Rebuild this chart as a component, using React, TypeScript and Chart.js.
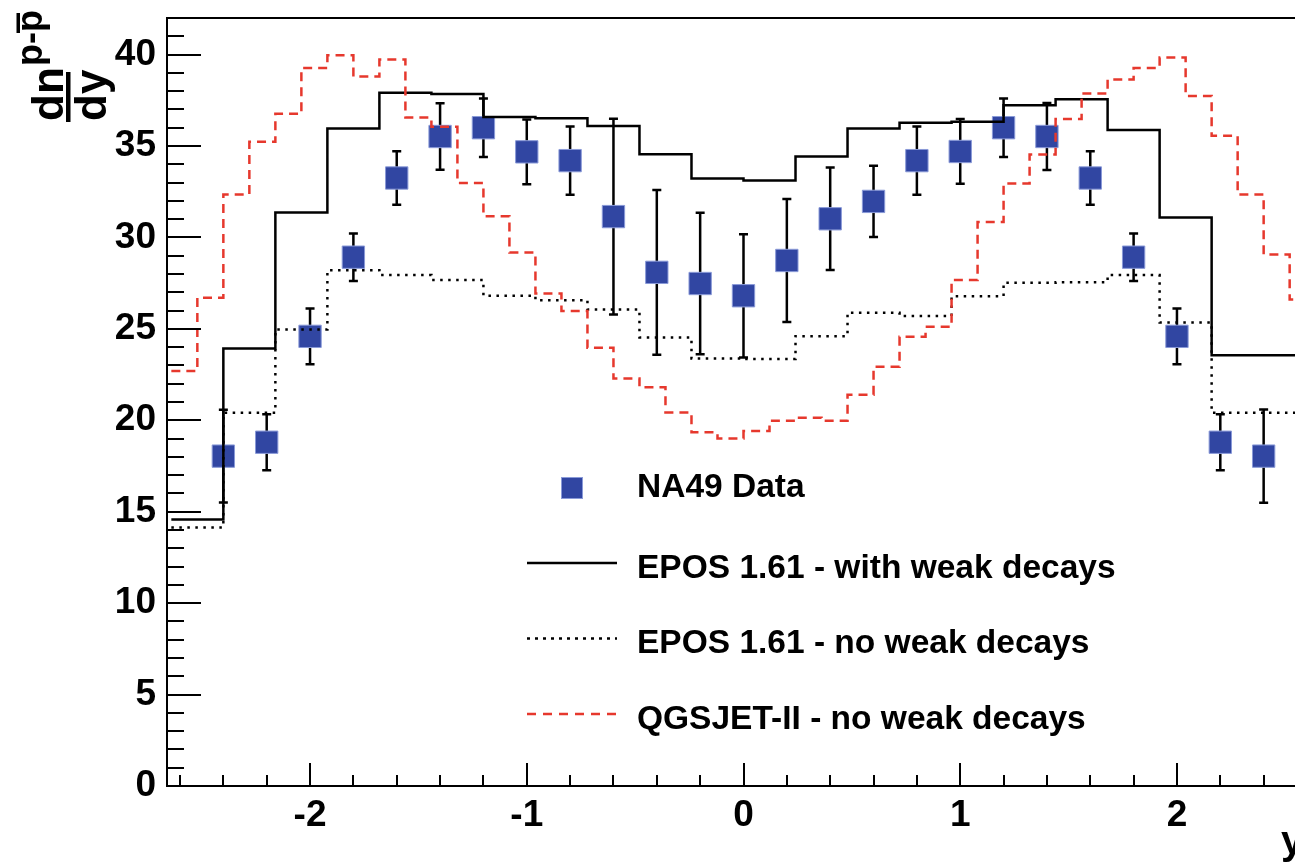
import React, { useEffect, useRef } from "react";
import { Chart, registerables } from "chart.js";

Chart.register(...registerables);

const FONT = '"Liberation Sans", Arial, Helvetica, sans-serif';

// Axis ranges
const X_MIN = -2.66;
const X_MAX = 2.66;
const Y_MIN = 0;
const Y_MAX = 42;

// Tick labels
const xTickValues = [-2, -1, 0, 1, 2];
const xTickLabels = ["-2", "-1", "0", "1", "2"];
const yTickValues = [0, 5, 10, 15, 20, 25, 30, 35, 40];
const yTickLabels = ["0", "5", "10", "15", "20", "25", "30", "35", "40"];
const xMinorStep = 0.2;
const yMinorStep = 1;

// NA49 data points
const na49X = [-2.4, -2.2, -2.0, -1.8, -1.6, -1.4, -1.2, -1.0, -0.8, -0.6, -0.4, -0.2, 0, 0.2, 0.4, 0.6, 0.8, 1.0, 1.2, 1.4, 1.6, 1.8, 2.0, 2.2, 2.4];
const na49Y = [18.04, 18.8, 24.59, 28.92, 33.25, 35.52, 36.0, 34.68, 34.2, 31.14, 28.09, 27.48, 26.81, 28.74, 31.02, 31.97, 34.2, 34.7, 36.0, 35.52, 33.25, 28.92, 24.59, 18.8, 18.04];
const na49Err = [2.53, 1.53, 1.52, 1.3, 1.46, 1.82, 1.6, 1.77, 1.86, 5.35, 4.5, 3.87, 3.37, 3.36, 2.8, 1.95, 1.87, 1.77, 1.6, 1.83, 1.46, 1.3, 1.52, 1.53, 2.55];

// EPOS 1.61 histograms (bin width 0.24)
const eposBinStart = -2.64;
const eposBinWidth = 0.24;
const eposWeakValues = [14.58, 23.93, 31.37, 35.96, 37.91, 37.85, 36.58, 36.52, 36.09, 34.55, 33.22, 33.12, 34.42, 35.96, 36.27, 36.32, 37.23, 37.56, 35.87, 31.09, 23.55, 23.55];
const eposNoWeakValues = [14.14, 20.41, 24.97, 28.21, 27.94, 27.67, 26.81, 26.57, 26.06, 24.53, 23.38, 23.35, 24.6, 25.88, 25.7, 26.79, 27.52, 27.55, 27.94, 25.35, 20.41, 20.41];

// QGSJET-II histogram (bin width 0.12)
const qgsBinStart = -2.64;
const qgsBinWidth = 0.12;
const qgsValues = [22.69, 26.7, 32.35, 35.23, 36.76, 39.27, 39.96, 38.8, 39.73, 36.56, 36.05, 32.98, 31.16, 29.18, 26.94, 25.97, 23.96, 22.29, 21.8, 20.43, 19.34, 19.01, 19.41, 19.97, 20.14, 19.97, 21.4, 22.93, 24.57, 25.11, 27.67, 30.85, 32.95, 34.54, 36.47, 37.87, 38.64, 39.27, 39.84, 37.74, 35.56, 32.35, 29.07, 26.6];

const legendLabels = ["NA49 Data", "EPOS 1.61 - with weak decays", "EPOS 1.61 - no weak decays", "QGSJET-II - no weak decays"];

const MARKER_FILL = "#3146a2";
const MARKER_EDGE = "#8a9ad8";
const RED = "#e6382d";

function histPoints(start: number, width: number, values: number[]) {
  const pts = values.map((v, i) => ({ x: start + i * width, y: v }));
  pts.push({ x: start + values.length * width, y: values[values.length - 1] });
  return pts;
}

const errorBarPlugin = {
  id: "errorBars",
  beforeDatasetsDraw(chart: any) {
    const { ctx, chartArea: a, scales } = chart;
    const xs = scales.x;
    const ys = scales.y;
    ctx.save();
    ctx.beginPath();
    ctx.rect(a.left, a.top, a.right - a.left, a.bottom - a.top);
    ctx.clip();
    ctx.strokeStyle = "#000";
    ctx.lineWidth = 2.5;
    ctx.lineCap = "butt";
    na49X.forEach((xv, i) => {
      const px = xs.getPixelForValue(xv);
      const top = ys.getPixelForValue(na49Y[i] + na49Err[i]);
      const bot = ys.getPixelForValue(na49Y[i] - na49Err[i]);
      ctx.beginPath();
      ctx.moveTo(px, top);
      ctx.lineTo(px, bot);
      ctx.moveTo(px - 4.5, top);
      ctx.lineTo(px + 4.5, top);
      ctx.moveTo(px - 4.5, bot);
      ctx.lineTo(px + 4.5, bot);
      ctx.stroke();
    });
    ctx.restore();
  },
};

const framePlugin = {
  id: "rootFrame",
  afterDatasetsDraw(chart: any) {
    const { ctx, chartArea: a, scales } = chart;
    const xs = scales.x;
    const ys = scales.y;
    ctx.save();
    ctx.strokeStyle = "#000";
    ctx.lineWidth = 2;
    ctx.beginPath();
    ctx.moveTo(a.left, a.bottom);
    ctx.lineTo(a.left, a.top);
    ctx.lineTo(a.right, a.top);
    ctx.lineTo(a.right, a.bottom);
    ctx.closePath();
    ctx.stroke();
    // y ticks
    ctx.beginPath();
    const nY = Math.round((Y_MAX - Y_MIN) / yMinorStep);
    for (let k = 0; k <= nY; k++) {
      const v = Y_MIN + k * yMinorStep;
      const py = Math.round(ys.getPixelForValue(v));
      const major = yTickValues.indexOf(v) >= 0;
      const len = major ? 34 : 17;
      ctx.moveTo(a.left, py);
      ctx.lineTo(a.left + len, py);
    }
    // x ticks
    const kMin = Math.ceil(X_MIN / xMinorStep - 1e-9);
    const kMax = Math.floor(X_MAX / xMinorStep + 1e-9);
    for (let k = kMin; k <= kMax; k++) {
      const v = k * xMinorStep;
      const px = Math.round(xs.getPixelForValue(v));
      const major = k % 5 === 0;
      const len = major ? 23 : 11;
      ctx.moveTo(px, a.bottom);
      ctx.lineTo(px, a.bottom - len);
    }
    ctx.stroke();
    ctx.restore();
  },
  afterDraw(chart: any) {
    const { ctx } = chart;
    ctx.save();
    ctx.fillStyle = "#000";
    ctx.textAlign = "left";
    ctx.textBaseline = "alphabetic";

    // Legend
    ctx.font = `bold 33.5px ${FONT}`;
    const textX = 637;
    const baselines = [497, 578, 652.5, 729];
    legendLabels.forEach((t, i) => ctx.fillText(t, textX, baselines[i]));
    // marker
    ctx.fillStyle = MARKER_FILL;
    ctx.fillRect(561, 477, 22, 22);
    ctx.strokeStyle = MARKER_EDGE;
    ctx.lineWidth = 1;
    ctx.strokeRect(561.5, 477.5, 21, 21);
    // line samples
    ctx.lineWidth = 2.5;
    ctx.strokeStyle = "#000";
    ctx.setLineDash([]);
    ctx.beginPath();
    ctx.moveTo(527, 563);
    ctx.lineTo(617, 563);
    ctx.stroke();
    ctx.setLineDash([3, 5]);
    ctx.beginPath();
    ctx.moveTo(527, 638.5);
    ctx.lineTo(617, 638.5);
    ctx.stroke();
    ctx.strokeStyle = RED;
    ctx.setLineDash([9, 7]);
    ctx.beginPath();
    ctx.moveTo(527, 714);
    ctx.lineTo(617, 714);
    ctx.stroke();
    ctx.setLineDash([]);

    // x axis title
    ctx.fillStyle = "#000";
    ctx.font = `bold 40px ${FONT}`;
    ctx.fillText("y", 1281, 854);

    // y axis title (rotated)
    ctx.rotate(-Math.PI / 2);
    ctx.font = `bold 44px ${FONT}`;
    ctx.fillText("dn", -121, 63);
    ctx.fillText("dy", -121, 106);
    ctx.fillRect(-122, 66, 50, 4.5);
    ctx.font = `bold 36px ${FONT}`;
    ctx.fillText("p-p", -66, 42);
    ctx.fillRect(-33, 16.5, 20, 3.5);
    ctx.restore();
  },
};

export default function App() {
  const canvasRef = useRef<HTMLCanvasElement | null>(null);

  useEffect(() => {
    if (!canvasRef.current) return;
    const chart = new Chart(canvasRef.current, {
      type: "scatter",
      data: {
        datasets: [
          {
            type: "line",
            label: legendLabels[3],
            data: histPoints(qgsBinStart, qgsBinWidth, qgsValues),
            stepped: true,
            borderColor: RED,
            borderWidth: 2.5,
            borderDash: [9, 6],
            pointRadius: 0,
            fill: false,
            order: 1,
          } as any,
          {
            type: "line",
            label: legendLabels[1],
            data: histPoints(eposBinStart, eposBinWidth, eposWeakValues),
            stepped: true,
            borderColor: "#000",
            borderWidth: 2.5,
            pointRadius: 0,
            fill: false,
            order: 2,
          } as any,
          {
            type: "line",
            label: legendLabels[2],
            data: histPoints(eposBinStart, eposBinWidth, eposNoWeakValues),
            stepped: true,
            borderColor: "#000",
            borderWidth: 2.5,
            borderDash: [2.5, 5.5],
            pointRadius: 0,
            fill: false,
            order: 3,
          } as any,
          {
            type: "scatter",
            label: legendLabels[0],
            data: na49X.map((x, i) => ({ x, y: na49Y[i] })),
            pointStyle: "rect",
            pointRadius: 15.8,
            backgroundColor: MARKER_FILL,
            borderColor: MARKER_EDGE,
            borderWidth: 1,
            order: 10,
          } as any,
        ],
      },
      options: {
        animation: false,
        responsive: false,
        devicePixelRatio: 1,
        events: [],
        layout: { autoPadding: false, padding: { left: 0, right: 0, top: 18, bottom: 0 } },
        plugins: {
          legend: { display: false },
          tooltip: { enabled: false },
        },
        scales: {
          x: {
            type: "linear",
            min: X_MIN,
            max: X_MAX,
            position: "bottom",
            grid: { display: false, drawTicks: false },
            border: { display: false },
            ticks: {
              color: "#000",
              font: { family: FONT, size: 37, weight: "bold" },
              padding: 8,
              maxRotation: 0,
              autoSkip: false,
              callback: (_v: any, idx: number) => xTickLabels[idx],
            },
            afterBuildTicks: (s: any) => {
              s.ticks = xTickValues.map((v) => ({ value: v }));
            },
            afterFit: (s: any) => {
              s.height = 77;
              s.paddingLeft = 0;
              s.paddingRight = 0;
            },
          },
          y: {
            type: "linear",
            min: Y_MIN,
            max: Y_MAX,
            position: "left",
            grid: { display: false, drawTicks: false },
            border: { display: false },
            ticks: {
              color: "#000",
              font: { family: FONT, size: 37, weight: "bold" },
              padding: 11,
              autoSkip: false,
              callback: (_v: any, idx: number) => yTickLabels[idx],
            },
            afterBuildTicks: (s: any) => {
              s.ticks = yTickValues.map((v) => ({ value: v }));
            },
            afterFit: (s: any) => {
              s.width = 167;
              s.paddingTop = 0;
              s.paddingBottom = 0;
            },
          },
        },
      } as any,
      plugins: [errorBarPlugin, framePlugin],
    });
    return () => chart.destroy();
  }, []);

  return (
    <div
      style={{
        position: "fixed",
        left: 0,
        top: 0,
        width: 1295,
        height: 863,
        overflow: "hidden",
        background: "#fff",
      }}
    >
      <canvas
        ref={canvasRef}
        width={1320}
        height={863}
        style={{ display: "block", width: 1320, height: 863 }}
      />
    </div>
  );
}
